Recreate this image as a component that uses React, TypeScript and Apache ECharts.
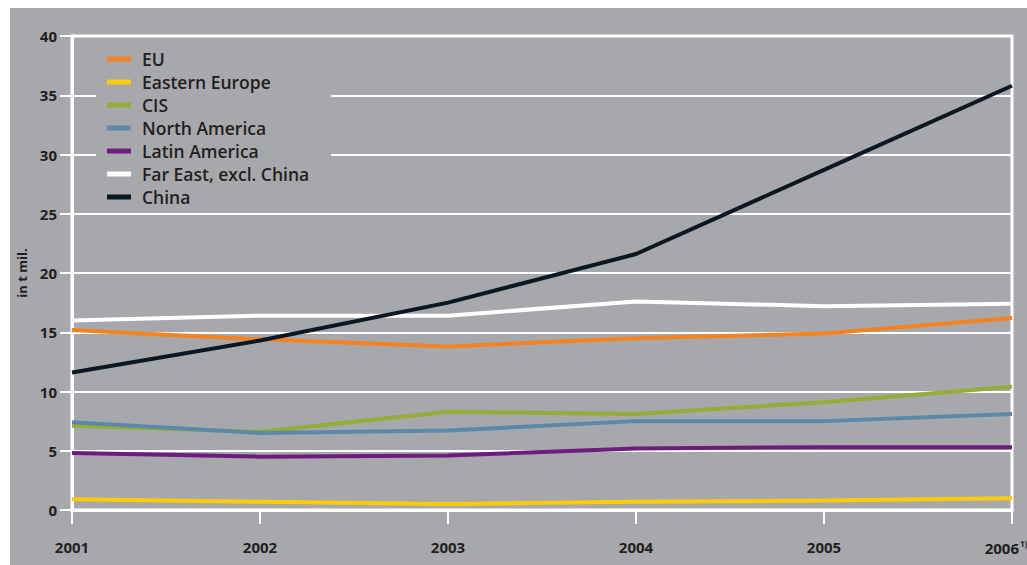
import React, { useEffect, useRef } from "react";
import * as echarts from "echarts";

const years = ["2001", "2002", "2003", "2004", "2005", "2006"];
const yTicks = [0, 5, 10, 15, 20, 25, 30, 35, 40];

const eu = [15.2, 14.4, 13.8, 14.5, 14.9, 16.2];
const easternEurope = [0.9, 0.7, 0.5, 0.7, 0.8, 1.0];
const cis = [7.1, 6.6, 8.3, 8.1, 9.1, 10.4];
const northAmerica = [7.4, 6.5, 6.7, 7.5, 7.5, 8.1];
const latinAmerica = [4.8, 4.5, 4.6, 5.2, 5.3, 5.3];
const farEast = [16.0, 16.4, 16.4, 17.6, 17.2, 17.4];
const china = [11.6, 14.3, 17.5, 21.6, 28.7, 35.8];

const seriesDefs = [
  { name: "EU", data: eu, color: "#f58220" },
  { name: "Eastern Europe", data: easternEurope, color: "#ffcb05" },
  { name: "CIS", data: cis, color: "#95ac36" },
  { name: "North America", data: northAmerica, color: "#5d88a9" },
  { name: "Latin America", data: latinAmerica, color: "#6d1c7d" },
  { name: "Far East, excl. China", data: farEast, color: "#ffffff" },
  { name: "China", data: china, color: "#0b1821" },
];

const BG = "#a7a8ab";
const TEXT = "#231f20";
const FONT = "'Open Sans', Lato, sans-serif";

export default function App() {
  const ref = useRef<HTMLDivElement>(null);
  useEffect(() => {
    if (!ref.current) return;
    const chart = echarts.init(ref.current, null, { renderer: "svg" });
    const lastYear = years[years.length - 1];
    chart.setOption({
      animation: false,
      backgroundColor: BG,
      textStyle: { fontFamily: FONT },
      grid: {
        left: 62,
        right: 15,
        top: 28,
        bottom: 55,
        show: true,
        borderColor: "#ffffff",
        borderWidth: 3,
        backgroundColor: "transparent",
        containLabel: false,
        outerBoundsMode: "none",
      },
      legend: {
        show: true,
        orient: "vertical",
        left: 86,
        top: 32,
        backgroundColor: BG,
        padding: [10, 22, 6, 11],
        icon: "rect",
        itemWidth: 24,
        itemHeight: 5,
        itemGap: 5,
        data: seriesDefs.map((s) => s.name),
        textStyle: {
          color: TEXT,
          fontFamily: FONT,
          fontWeight: 600,
          fontSize: 17.5,
          lineHeight: 18,
          padding: [0, 0, 0, 6],
        },
      },
      xAxis: {
        type: "category",
        boundaryGap: false,
        data: years.map((y) =>
          y === lastYear ? { value: y, textStyle: { padding: [0, 12, 0, 0] } } : y
        ),
        axisLine: { show: true, lineStyle: { color: "#ffffff", width: 3 } },
        axisTick: {
          show: true,
          alignWithLabel: true,
          length: 14,
          lineStyle: { color: "#ffffff", width: 2 },
        },
        axisLabel: {
          color: TEXT,
          fontFamily: FONT,
          fontWeight: "bold",
          fontSize: 15,
          margin: 29,
          interval: 0,
          formatter: (v: string) => (v === lastYear ? `{a|${v}}{s|1)}` : v),
          rich: {
            a: { color: TEXT, fontFamily: FONT, fontWeight: "bold", fontSize: 15 },
            s: {
              color: TEXT,
              fontFamily: FONT,
              fontWeight: "bold",
              fontSize: 8,
              padding: [0, 0, 9, 1],
            },
          },
        },
        splitLine: { show: false },
      },
      yAxis: {
        type: "value",
        min: yTicks[0],
        max: yTicks[yTicks.length - 1],
        interval: 5,
        name: "in t mil.",
        nameLocation: "middle",
        nameGap: 43,
        nameRotate: 90,
        nameTextStyle: {
          color: TEXT,
          fontFamily: FONT,
          fontWeight: "bold",
          fontSize: 13,
        },
        axisLine: { show: true, lineStyle: { color: "#ffffff", width: 3 } },
        axisTick: { show: true, length: 12, lineStyle: { color: "#ffffff", width: 2 } },
        axisLabel: {
          color: TEXT,
          fontFamily: FONT,
          fontWeight: "bold",
          fontSize: 15,
          margin: 15,
        },
        splitLine: { show: true, lineStyle: { color: "#ffffff", width: 2 } },
      },
      series: seriesDefs.map((s) => ({
        name: s.name,
        type: "line",
        data: s.data,
        showSymbol: false,
        symbol: "none",
        color: s.color,
        lineStyle: { color: s.color, width: 4 },
        itemStyle: { color: s.color },
      })),
    });
    return () => chart.dispose();
  }, []);

  return (
    <div
      style={{
        position: "fixed",
        left: 0,
        top: 0,
        width: 1027,
        height: 565,
        background: "#ffffff",
        overflow: "hidden",
      }}
    >
      <div
        ref={ref}
        style={{ position: "absolute", left: 10, top: 8, width: 1017, height: 557 }}
      />
    </div>
  );
}
